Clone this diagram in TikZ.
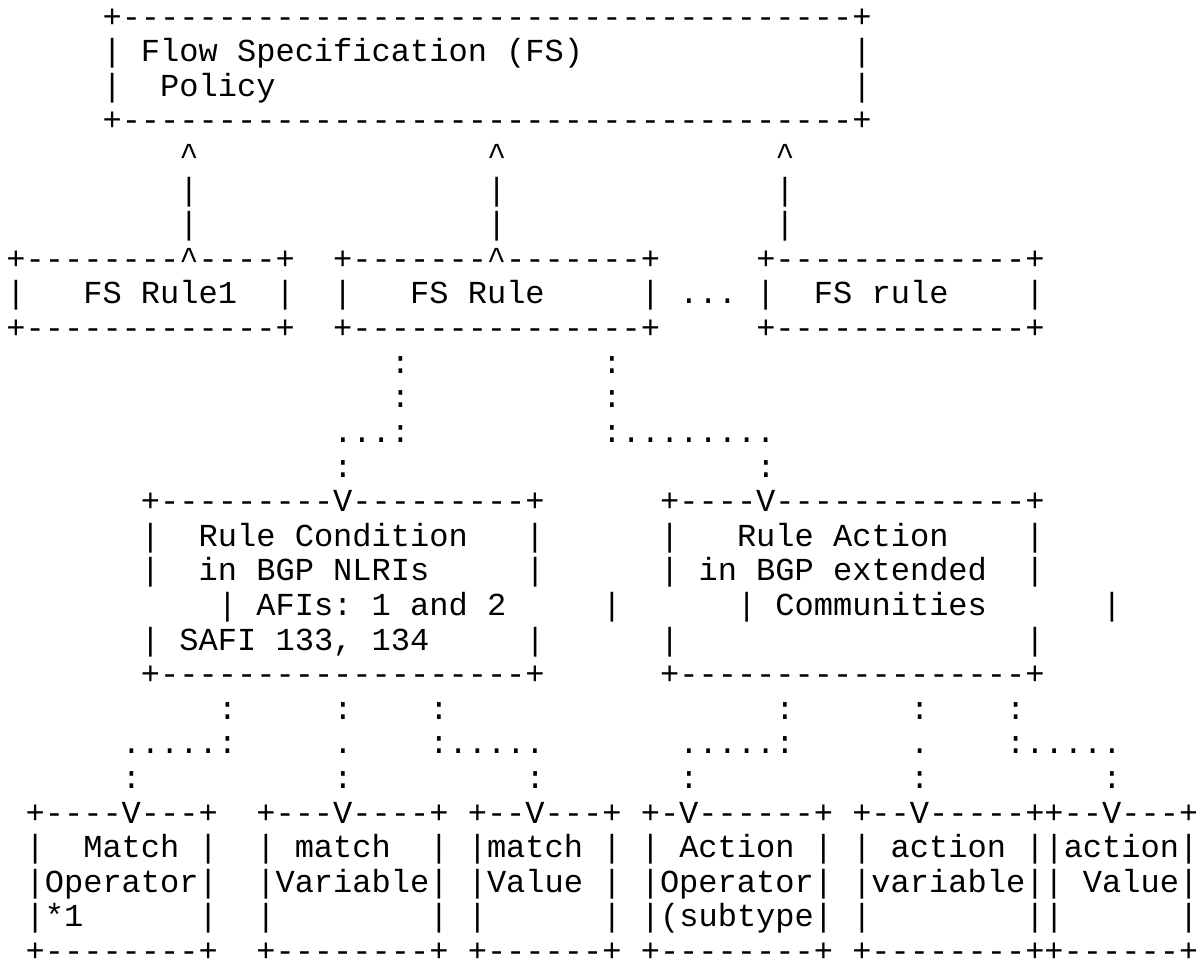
\documentclass[tikz,border=0pt]{standalone}
\usepackage{fontspec}
\setmonofont{Liberation Mono}
\ExplSyntaxOn
\cs_new:Npn \rp #1#2 { \prg_replicate:nn {#1} {#2} }
\ExplSyntaxOff
\newcommand{\cc}{\textasciicircum}
\tikzset{
  asciiline/.style={anchor=base west, inner sep=0pt, outer sep=0pt,
    font=\ttfamily\fontsize{16.02pt}{17.3pt}\selectfont, text=black}
}
\newcommand{\aline}[2]{\node[asciiline] (l#1) at (3.2pt,{-13.6pt-(#1-1)*17.3pt}) {\frenchspacing#2};}
\begin{document}
\begin{tikzpicture}
\fill[white] (0,0) rectangle (598pt,-481.5pt);
\useasboundingbox (0,0) rectangle (598pt,-481.5pt);
\aline{1}{\rp{5}{~}+\rp{38}{-}+}
\aline{2}{\rp{5}{~}|~Flow~Specification~(FS)\rp{14}{~}|}
\aline{3}{\rp{5}{~}|~~Policy\rp{30}{~}|}
\aline{4}{\rp{5}{~}+\rp{38}{-}+}
\aline{5}{\rp{9}{~}\cc\rp{15}{~}\cc\rp{14}{~}\cc}
\aline{6}{\rp{9}{~}|\rp{15}{~}|\rp{14}{~}|}
\aline{7}{\rp{9}{~}|\rp{15}{~}|\rp{14}{~}|}
\aline{8}{+\rp{8}{-}\cc\rp{4}{-}+~~+\rp{7}{-}\cc\rp{7}{-}+\rp{5}{~}+\rp{13}{-}+}
\aline{9}{|\rp{3}{~}FS~Rule1~~|~~|\rp{3}{~}FS~Rule\rp{5}{~}|~...~|~~FS~rule\rp{4}{~}|}
\aline{10}{+\rp{13}{-}+~~+\rp{15}{-}+\rp{5}{~}+\rp{13}{-}+}
\aline{11}{\rp{20}{~}:\rp{10}{~}:}
\aline{12}{\rp{20}{~}:\rp{10}{~}:}
\aline{13}{\rp{17}{~}...:\rp{10}{~}:........}
\aline{14}{\rp{17}{~}:\rp{21}{~}:}
\aline{15}{\rp{7}{~}+\rp{9}{-}V\rp{9}{-}+\rp{6}{~}+\rp{4}{-}V\rp{13}{-}+}
\aline{16}{\rp{7}{~}|~~Rule~Condition\rp{3}{~}|\rp{6}{~}|\rp{3}{~}Rule~Action\rp{4}{~}|}
\aline{17}{\rp{7}{~}|~~in~BGP~NLRIs\rp{5}{~}|\rp{6}{~}|~in~BGP~extended~~|}
\aline{18}{\rp{11}{~}|~AFIs:~1~and~2\rp{5}{~}|\rp{6}{~}|~Communities\rp{6}{~}|}
\aline{19}{\rp{7}{~}|~SAFI~133,~134\rp{5}{~}|\rp{6}{~}|\rp{18}{~}|}
\aline{20}{\rp{7}{~}+\rp{19}{-}+\rp{6}{~}+\rp{18}{-}+}
\aline{21}{\rp{11}{~}:\rp{5}{~}:\rp{4}{~}:\rp{17}{~}:\rp{6}{~}:\rp{4}{~}:}
\aline{22}{\rp{6}{~}.....:\rp{5}{~}.\rp{4}{~}:.....\rp{7}{~}.....:\rp{6}{~}.\rp{4}{~}:.....}
\aline{23}{\rp{6}{~}:\rp{10}{~}:\rp{9}{~}:\rp{7}{~}:\rp{11}{~}:\rp{9}{~}:}
\aline{24}{~+\rp{4}{-}V\rp{3}{-}+~~+\rp{3}{-}V\rp{4}{-}+~+\rp{2}{-}V\rp{3}{-}+~+-V\rp{6}{-}+~+\rp{2}{-}V\rp{5}{-}++\rp{2}{-}V\rp{3}{-}+}
\aline{25}{~|~~Match~|~~|~match~~|~|match~|~|~Action~|~|~action~||action|}
\aline{26}{~|Operator|~~|Variable|~|Value~|~|Operator|~|variable||~Value|}
\aline{27}{~|*1\rp{6}{~}|~~|\rp{8}{~}|~|\rp{6}{~}|~|(subtype|~|\rp{8}{~}||\rp{6}{~}|}
\aline{28}{~+\rp{8}{-}+~~+\rp{8}{-}+~+\rp{6}{-}+~+\rp{8}{-}+~+\rp{8}{-}++\rp{6}{-}+}
\end{tikzpicture}
\end{document}
